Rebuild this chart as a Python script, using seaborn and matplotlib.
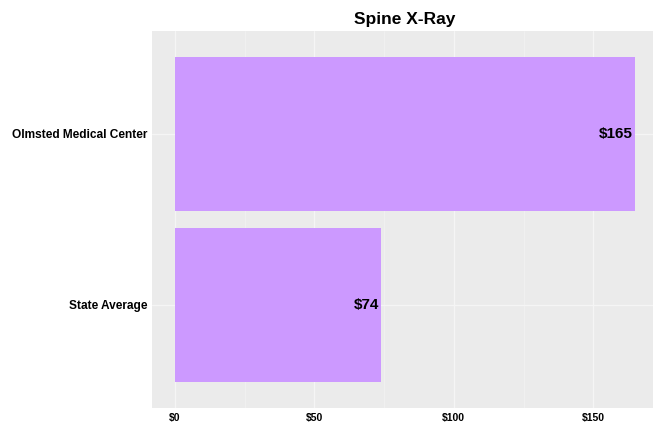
import pandas as pd
import seaborn as sns
import matplotlib.pyplot as plt
from matplotlib.ticker import MultipleLocator

# data
facilities = ['Olmsted Medical Center', 'State Average']
prices = [165, 74]
tick_values = [0, 50, 100, 150]
tick_labels = ['$0', '$50', '$100', '$150']

df = pd.DataFrame({'facility': facilities, 'price': prices})

sns.set_style('darkgrid', {'axes.facecolor': '#EBEBEB', 'grid.color': 'white'})
plt.rcParams['font.family'] = ['Liberation Sans', 'DejaVu Sans']
plt.rcParams['text.color'] = 'black'
plt.rcParams['xtick.color'] = 'black'
plt.rcParams['ytick.color'] = 'black'

fig = plt.figure(figsize=(6.53, 4.23), dpi=100)
ax = fig.add_axes([0.2328, 0.036, 0.775, 0.891])

sns.barplot(data=df, x='price', y='facility', orient='h', color='#CC99FF',
            width=0.9, saturation=1, linewidth=0, edgecolor='none', ax=ax)

# value labels at the end of each bar
for i, v in enumerate(df['price']):
    ax.text(v - 0.7, i, '${}'.format(v), ha='right', va='center',
            fontsize=11, fontweight='bold', color='black')

ax.set_xlim(-8.25, 173.25)
ax.set_ylim(1.6, -0.6)
ax.set_xticks(tick_values)
ax.set_xticklabels(tick_labels, fontsize=7.5, fontweight='bold')
ax.xaxis.set_minor_locator(MultipleLocator(25))
ax.grid(True, which='major', color='#F5F5F5', linewidth=0.9)
ax.grid(True, which='minor', axis='x', color='#F1F1F1', linewidth=0.6)
ax.set_axisbelow(True)
for lbl in ax.get_yticklabels():
    lbl.set_fontsize(8.6)
    lbl.set_fontweight('bold')
ax.tick_params(axis='both', which='major', length=2.5, color='#BBBBBB', width=0.6, pad=1)
ax.tick_params(which='minor', length=0)
ax.set_xlabel('')
ax.set_ylabel('')
for s in ax.spines.values():
    s.set_visible(False)

fig.text(0.62, 0.953, 'Spine X-Ray', ha='center', va='center',
         fontsize=12.5, fontweight='bold', color='black')

fig.savefig('out.png', dpi=100, facecolor='white')
